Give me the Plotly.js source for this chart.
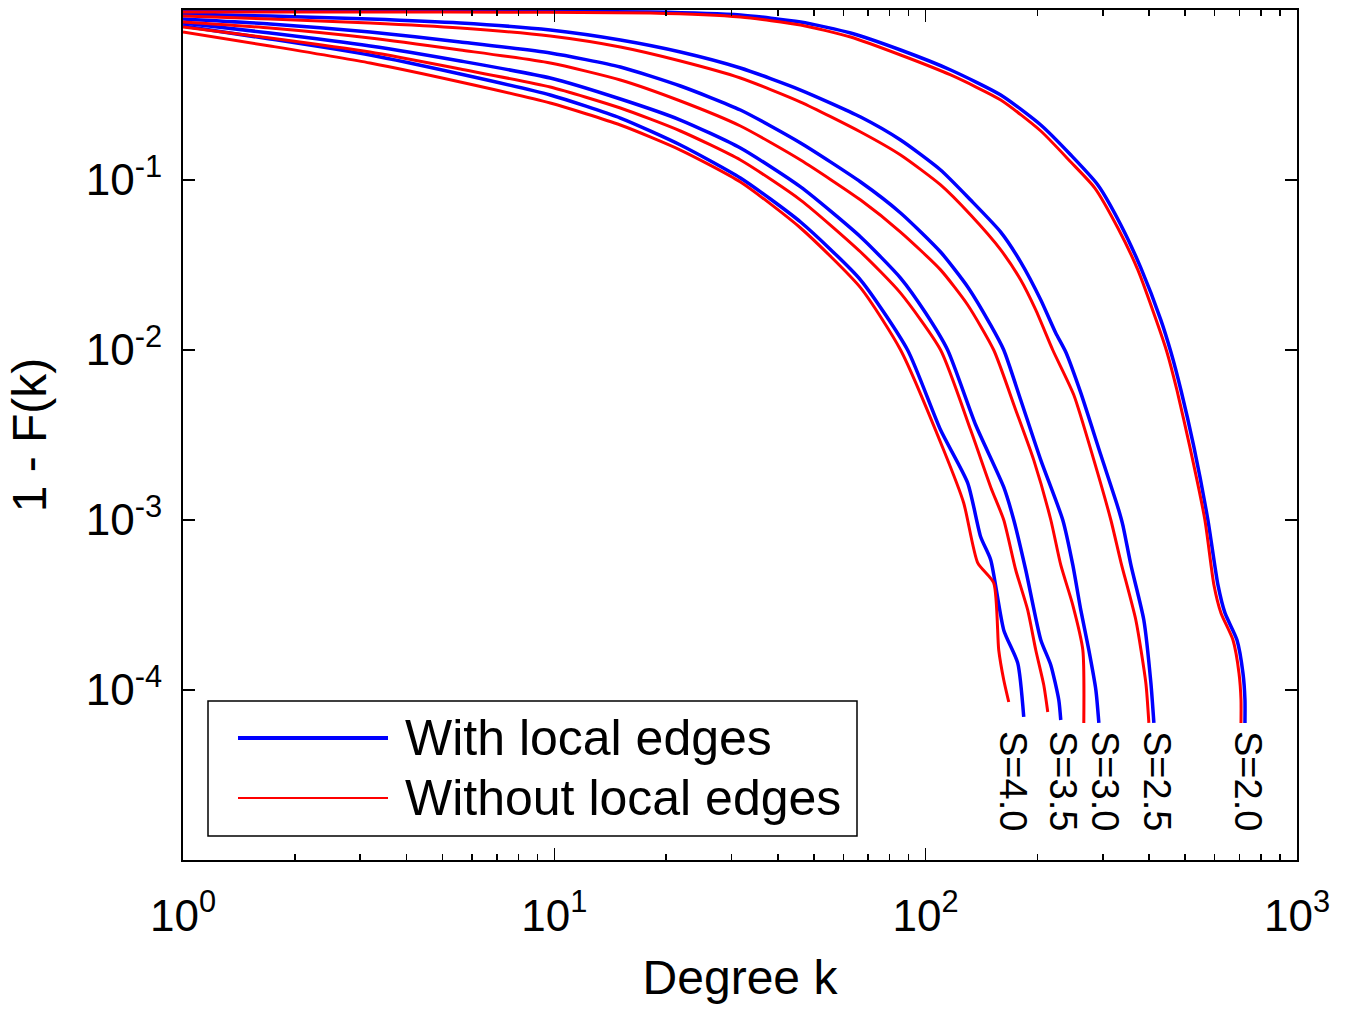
<!DOCTYPE html>
<html><head><meta charset="utf-8">
<script src="https://cdn.plot.ly/plotly-3.0.1.min.js"></script>
<style>html,body{margin:0;padding:0;background:#fff}#chart{width:1353px;height:1010px}</style>
</head><body><div id="chart"></div>
<script>
// ---- data: degree k and 1-F(k) ----
const sLabels = ["S=2.0", "S=2.5", "S=3.0", "S=3.5", "S=4.0"];
const legendNames = ["With local edges", "Without local edges"];

const kWith20 = [1, 5.24, 18.15, 31.71, 46.04, 62.8, 85.6, 116.8, 159.3, 204.2, 246.0, 290.9, 335.5, 379.7, 430.0, 457.5, 486.8, 527.6, 575.5, 612.5, 639.7, 689.2, 715.2, 724.2, 724.2];
const vWith20 = [0.9866, 0.9866, 0.9733, 0.9346, 0.8500, 0.7324, 0.5818, 0.4437, 0.3162, 0.2106, 0.1403, 0.0935, 0.0544, 0.0304, 0.0150, 0.00973, 0.00582, 0.00269, 0.00100, 4.15e-4, 2.84e-4, 1.97e-4, 1.26e-4, 8.73e-5, 6.40e-5];
const kWithout20 = [1, 5.24, 18.15, 31.71, 46.04, 62.8, 85.6, 116.8, 159.3, 204.2, 246.0, 285.5, 329.3, 372.7, 419.4, 446.3, 474.8, 514.6, 564.9, 597.4, 624.0, 672.3, 697.8, 706.6, 706.6];
const vWithout20 = [0.9733, 0.9733, 0.9602, 0.9095, 0.8160, 0.6939, 0.5437, 0.4147, 0.2955, 0.1942, 0.1276, 0.0897, 0.0522, 0.0296, 0.0146, 0.00973, 0.00582, 0.00269, 0.00100, 4.15e-4, 2.84e-4, 1.97e-4, 1.26e-4, 8.73e-5, 6.40e-5];

const kWith25 = [1, 1.716, 3.19, 5.58, 9.75, 15.06, 21.86, 31.71, 46.04, 66.82, 85.6, 109.7, 132.2, 159.3, 180.3, 204.2, 224.0, 238.4, 261.7, 296.3, 329.3, 339.6, 357.0, 386.8, 404.1, 411.7];
const vWith25 = [0.9473, 0.9220, 0.8852, 0.8386, 0.7627, 0.6662, 0.5662, 0.4559, 0.3383, 0.2347, 0.1719, 0.1145, 0.0762, 0.0494, 0.0329, 0.0197, 0.0126, 0.00973, 0.00559, 0.00241, 0.00119, 9.34e-4, 5.44e-4, 2.58e-4, 1.10e-4, 6.40e-5];
const kWithout25 = [1, 1.716, 3.19, 5.58, 9.75, 15.06, 21.86, 31.71, 46.04, 66.82, 85.6, 109.7, 132.2, 159.3, 180.3, 197.9, 219.9, 250.6, 283.8, 315.3, 335.5, 368.1, 391.7, 399.1];
const vWithout25 = [0.9220, 0.8852, 0.8386, 0.7836, 0.7033, 0.6059, 0.5012, 0.3981, 0.2876, 0.1916, 0.1403, 0.0935, 0.0622, 0.0388, 0.0258, 0.0172, 0.0100, 0.00544, 0.00225, 0.00100, 5.66e-4, 2.58e-4, 1.10e-4, 6.40e-5];

const kWith30 = [1, 1.716, 3.19, 5.58, 9.75, 15.06, 21.86, 31.71, 46.04, 66.82, 85.6, 109.7, 129.8, 149.7, 162.3, 180.3, 204.2, 234.0, 249.0, 261.7, 275.0, 287.3, 292.7];
const vWith30 = [0.8852, 0.8273, 0.7424, 0.6484, 0.5586, 0.4621, 0.3572, 0.2580, 0.1651, 0.0973, 0.0640, 0.0377, 0.0235, 0.0140, 0.0100, 0.00508, 0.00225, 0.00100, 5.44e-4, 2.95e-4, 1.72e-4, 1.0e-4, 6.40e-5];
const kWithout30 = [1, 1.716, 3.19, 5.58, 9.75, 15.06, 21.86, 31.71, 46.04, 66.82, 85.6, 109.7, 129.8, 152.5, 174.8, 195.5, 217.3, 231.1, 249.0, 265.0, 266.6];
const vWithout30 = [0.8500, 0.7836, 0.6845, 0.5818, 0.4878, 0.3875, 0.2915, 0.2078, 0.1311, 0.0762, 0.0494, 0.0296, 0.0184, 0.0100, 0.00444, 0.00225, 0.00100, 5.44e-4, 3.16e-4, 1.72e-4, 6.40e-5];

const kWith35 = [1, 1.716, 3.19, 5.58, 9.75, 15.06, 21.86, 31.71, 46.04, 66.82, 85.6, 100, 114.6, 136.4, 162.3, 172.7, 186.0, 204.2, 217.3, 228.3, 231.1];
const vWith35 = [0.8386, 0.7324, 0.6142, 0.5012, 0.3981, 0.2995, 0.2253, 0.1542, 0.0910, 0.0462, 0.0265, 0.0165, 0.0100, 0.00362, 0.00156, 0.00100, 5.08e-4, 1.97e-4, 1.40e-4, 8.73e-5, 6.66e-5];
const kWithout35 = [1, 1.716, 3.19, 5.58, 9.75, 15.06, 21.86, 31.71, 46.04, 66.82, 85.6, 109.7, 132.2, 149.7, 162.3, 174.8, 188.3, 197.9, 208.0, 213.2];
const vWithout35 = [0.7943, 0.6845, 0.5662, 0.4497, 0.3524, 0.2651, 0.1942, 0.1311, 0.0762, 0.0377, 0.0216, 0.0100, 0.00338, 0.00156, 0.00100, 5.08e-4, 2.95e-4, 1.72e-4, 1.07e-4, 7.42e-5];

const kWith40 = [1, 1.716, 3.19, 5.58, 9.75, 15.06, 21.86, 31.71, 46.04, 66.82, 89.4, 109.7, 129.8, 140.7, 149.7, 162.3, 177.0, 183.7];
const vWith40 = [0.8052, 0.6753, 0.5437, 0.4203, 0.3162, 0.2315, 0.1607, 0.1027, 0.0566, 0.0258, 0.0100, 0.00338, 0.00165, 7.94e-4, 5.82e-4, 2.25e-4, 1.44e-4, 6.94e-5];
const kWithout40 = [1, 1.716, 3.19, 5.58, 9.75, 15.06, 21.86, 31.71, 46.04, 66.82, 85.6, 111.8, 126.6, 138.1, 152.5, 157.3, 162.3, 167.4];
const vWithout40 = [0.7424, 0.6142, 0.4878, 0.3771, 0.2837, 0.2106, 0.1501, 0.0973, 0.0522, 0.0232, 0.0100, 0.00258, 0.00126, 5.59e-4, 4.26e-4, 1.72e-4, 1.145e-4, 8.50e-5];

const xTickVals = [1, 10, 100, 1000];
const xTickText = ["10<sup>0</sup>", "10<sup>1</sup>", "10<sup>2</sup>", "10<sup>3</sup>"];
const xMinorVals = [2,3,4,5,6,7,8,9,20,30,40,50,60,70,80,90,200,300,400,500,600,700,800,900];
const yTickVals = [1e-4, 1e-3, 1e-2, 1e-1];
const yTickText = ["10<sup>-4</sup>", "10<sup>-3</sup>", "10<sup>-2</sup>", "10<sup>-1</sup>"];

// ---- figure ----
const BLUE = "#0000ff", RED = "#ff0000";
const FONT = "Liberation Sans, Arial, Helvetica, sans-serif";
const withSets = [[kWith20, vWith20], [kWith25, vWith25], [kWith30, vWith30], [kWith35, vWith35], [kWith40, vWith40]];
const withoutSets = [[kWithout20, vWithout20], [kWithout25, vWithout25], [kWithout30, vWithout30], [kWithout35, vWithout35], [kWithout40, vWithout40]];

const traces = [];
withSets.forEach((d, i) => traces.push({x: d[0], y: d[1], type: "scatter", mode: "lines", name: legendNames[0] + " " + sLabels[i], line: {color: BLUE, width: 3.5, shape: "spline", smoothing: 0.6}, showlegend: false}));
withoutSets.forEach((d, i) => traces.push({x: d[0], y: d[1], type: "scatter", mode: "lines", name: legendNames[1] + " " + sLabels[i], line: {color: RED, width: 3, shape: "spline", smoothing: 0.6}, showlegend: false}));

const W = 1114, H = 850; // plot area size for paper conversions
const px = v => (v - 183) / W, py = v => (860 - v) / H;

const labelX = [1248, 1157, 1105, 1063, 1013];
const annotations = sLabels.map((t, i) => ({
  text: t, xref: "paper", yref: "paper", x: px(labelX[i]), y: py(781),
  xanchor: "center", yanchor: "middle", showarrow: false, textangle: 90,
  font: {family: FONT, size: 38, color: "#000"}
}));
annotations.push({text: legendNames[0], xref: "paper", yref: "paper", x: px(403), y: py(738), xanchor: "left", yanchor: "middle", showarrow: false, font: {family: FONT, size: 50, color: "#000"}});
annotations.push({text: legendNames[1], xref: "paper", yref: "paper", x: px(403), y: py(798), xanchor: "left", yanchor: "middle", showarrow: false, font: {family: FONT, size: 50, color: "#000"}});

const shapes = [
  {type: "rect", xref: "paper", yref: "paper", x0: px(208), x1: px(857), y0: py(836), y1: py(701), line: {color: "#000", width: 1.5}, fillcolor: "#fff"},
  {type: "line", xref: "paper", yref: "paper", x0: px(238), x1: px(388), y0: py(738), y1: py(738), line: {color: BLUE, width: 4}},
  {type: "line", xref: "paper", yref: "paper", x0: px(238), x1: px(388), y0: py(798), y1: py(798), line: {color: RED, width: 2}}
];

const axisCommon = {
  type: "log", showgrid: false, zeroline: false, showline: true, linecolor: "#000", linewidth: 2,
  mirror: "ticks", ticks: "inside", ticklen: 12, tickwidth: 1.5, tickcolor: "#000",
  tickfont: {family: FONT, size: 44, color: "#000"}
};

const layout = {
  width: 1353, height: 1010,
  margin: {l: 183, r: 56, t: 10, b: 150, pad: 0},
  paper_bgcolor: "#fff", plot_bgcolor: "#fff",
  showlegend: false,
  font: {family: FONT, color: "#000"},
  xaxis: Object.assign({}, axisCommon, {
    range: [0, 3], tickmode: "array", tickvals: xTickVals, ticktext: xTickText,
    ticklabelstandoff: 16,
    minor: {tickmode: "array", tickvals: xMinorVals, ticks: "inside", ticklen: 6, tickwidth: 1.5, tickcolor: "#000", showgrid: false},
    title: {text: "Degree k", font: {family: FONT, size: 48, color: "#000"}, standoff: 22}
  }),
  yaxis: Object.assign({}, axisCommon, {
    range: [-5, 0], tickmode: "array", tickvals: yTickVals, ticktext: yTickText,
    ticklabelstandoff: 10,
    title: {text: "1 - F(k)", font: {family: FONT, size: 48, color: "#000"}, standoff: 24}
  }),
  annotations: annotations,
  shapes: shapes
};

Plotly.newPlot("chart", traces, layout, {staticPlot: true, displayModeBar: false});
</script>
</body></html>
